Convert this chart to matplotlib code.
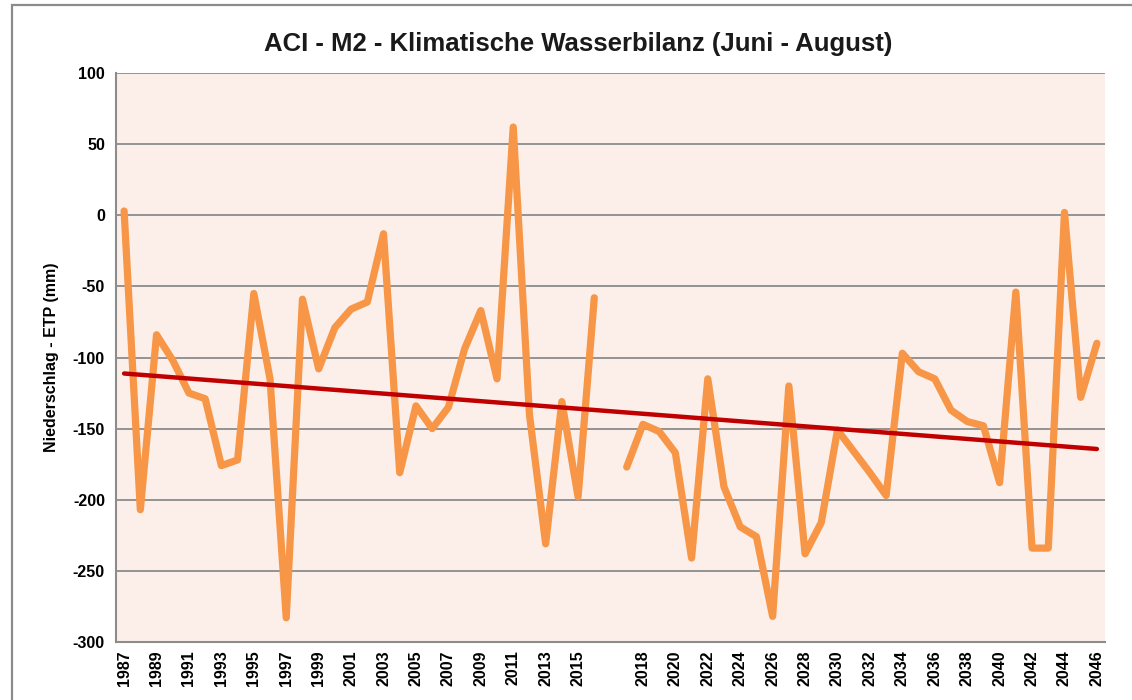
import numpy as np
import matplotlib
matplotlib.use("Agg")
import matplotlib.pyplot as plt
from matplotlib.patches import Rectangle

# Jahre 1987-2016, Lücke, 2017-2046
years = [str(y) for y in range(1987, 2017)] + [""] + [str(y) for y in range(2017, 2047)]
kwb = [3, -207, -84, -102, -125, -129, -176, -172, -55, -115,
       -283, -59, -108, -79, -66, -61, -13, -181, -134, -150,
       -135, -94, -67, -115, 62, -140, -231, -131, -198, -58,
       np.nan,
       -177, -147, -152, -167, -241, -115, -191, -219, -226, -282,
       -120, -238, -216, -151, -166, -181, -197, -97, -110, -115,
       -137, -145, -148, -188, -54, -234, -234, 2, -128, -90]
yticks = [100, 50, 0, -50, -100, -150, -200, -250, -300]

title = "ACI - M2 - Klimatische Wasserbilanz (Juni - August)"
ylabel = "Niederschlag - ETP (mm)"

plt.rcParams['font.family'] = ['Liberation Sans', 'DejaVu Sans']

fig = plt.figure(figsize=(11.32, 7.0), dpi=100)
ax = fig.add_axes([116/1132, 1-642/700, (1105-116)/1132, (642-73)/700])

x = np.arange(len(years))
y = np.array(kwb, dtype=float)

ax.set_facecolor("#fcefea")
ax.plot(x, y, color="#f79646", lw=5.2, solid_capstyle="round", solid_joinstyle="round", zorder=3)

# linearer Trend (wie Excel-Trendlinie)
ok = ~np.isnan(y)
m, b = np.polyfit(x[ok], y[ok], 1)
ax.plot([x[0], x[-1]], [m*x[0]+b, m*x[-1]+b], color="#c00000", lw=3.2, solid_capstyle="round", zorder=4)

ax.set_xlim(-0.5, len(years)-0.5)
ax.set_ylim(-300, 100)
ax.set_yticks(yticks)
ax.set_yticklabels([str(t) for t in yticks], fontsize=11.5, fontweight="bold")
ax.set_xticks(x[::2])
ax.set_xticklabels(years[::2], rotation=90, fontsize=11.5, fontweight="bold")
ax.tick_params(length=0, pad=8)
ax.tick_params(axis="x", pad=6)

ax.grid(axis="y", color="#8c8c8c", lw=1.3)
ax.set_axisbelow(True)
for s in ["top", "right"]:
    ax.spines[s].set_visible(False)
for s in ["left", "bottom"]:
    ax.spines[s].set_color("#8c8c8c")
    ax.spines[s].set_linewidth(1.5)

ax.set_ylabel(ylabel, fontsize=11.5, fontweight="bold", labelpad=10)
fig.text(578/1132, 1-44/700, title, ha="center", va="center", fontsize=18.5, fontweight="bold", color="#1a1a1a")

# Rahmen des Diagrammbereichs
fig.patches.append(Rectangle((12/1132, -0.1), 1.1, 1.1-5/700, transform=fig.transFigure,
                             fill=False, edgecolor="#8c8c8c", lw=1.6))

fig.savefig("out.png", dpi=100)
